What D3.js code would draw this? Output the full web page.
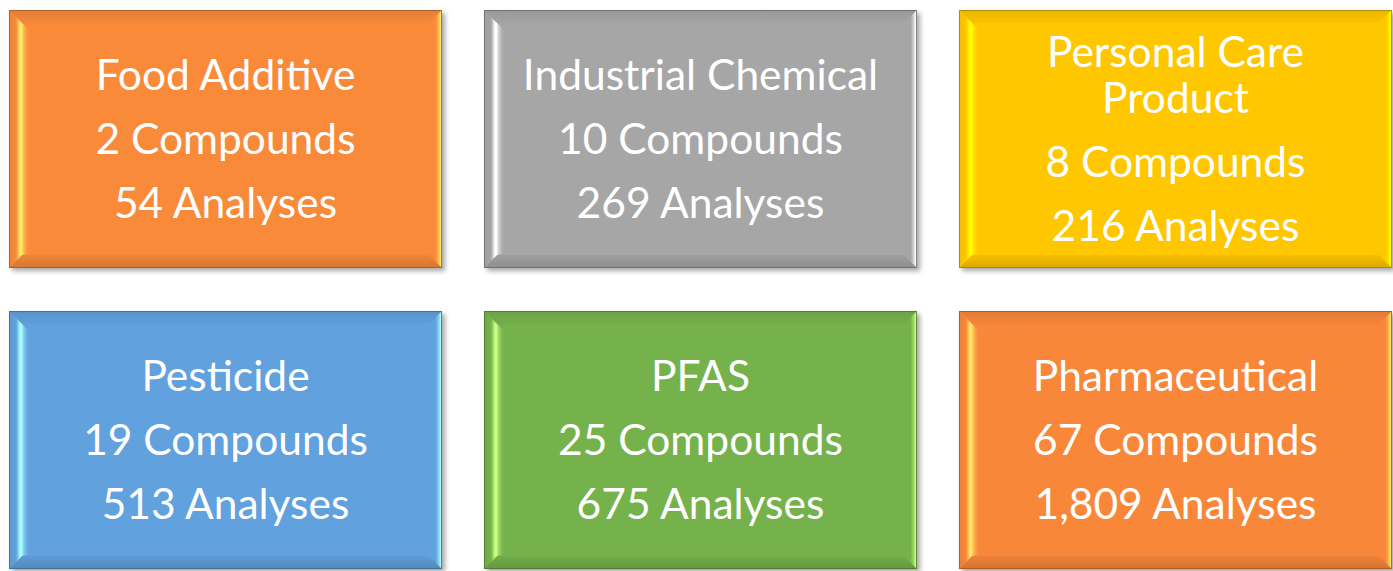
<!DOCTYPE html>
<html>
<head>
<meta charset="utf-8">
<script src="https://cdn.jsdelivr.net/npm/d3@7"></script>
<style>
  body { margin: 0; background: #fff; }
  svg { display: block; }
</style>
</head>
<body>
<script>
(function() {

    const width = 1393;
    const height = 571;

    // tile data
    const categories = ["Food Additive", "Industrial Chemical", "Personal Care\nProduct",
                        "Pesticide", "PFAS", "Pharmaceutical"];
    const compounds = [2, 10, 8, 19, 25, 67];
    const analyses = [54, 269, 216, 513, 675, 1809];

    // tile fill colours, one per category
    const tileColors = ["#f98a3a", "#a6a6a6", "#ffc700", "#61a1dd", "#76b24c", "#f8873a"];

    const color = d3.scaleOrdinal().domain(categories).range(tileColors);
    const fmt = d3.format(",");

    const x = d3.scaleBand().domain([0, 1, 2]).range([9, 1392]).paddingInner(0.0884);
    const y = d3.scaleBand().domain([0, 1]).range([10, 569]).paddingInner(0.143);

    const bevel = 13;

    const svg = d3.select("body").append("svg")
        .attr("width", width)
        .attr("height", height);

    const defs = svg.append("defs");
    defs.append("filter")
        .attr("id", "shadow")
        .attr("x", "-5%").attr("y", "-5%")
        .attr("width", "110%").attr("height", "115%")
        .append("feGaussianBlur")
        .attr("stdDeviation", 2.5);

    function gradient(id, vertical, stops) {
        const g = defs.append("linearGradient")
            .attr("id", id)
            .attr("x1", 0).attr("y1", 0)
            .attr("x2", vertical ? 0 : 1).attr("y2", vertical ? 1 : 0);
        stops.forEach(s => {
            g.append("stop")
                .attr("offset", s[0])
                .attr("stop-color", s[1])
                .attr("stop-opacity", s[2] == null ? 1 : s[2]);
        });
    }

    const tiles = categories.map((c, i) => ({
        name: c,
        lines: c.split("\n"),
        compounds: compounds[i],
        analyses: analyses[i],
        col: i % 3,
        row: Math.floor(i / 3),
        i: i
    }));

    tiles.forEach(d => {
        const base = d3.color(color(d.name));
        const light = base.brighter(1.5).formatHex();
        const mid = d3.interpolateRgb(base, light)(0.5);
        const b = base.formatHex();
        gradient("left" + d.i, false, [[0, base.darker(0.15).formatHex()], [0.55, b], [0.85, light], [1, light]]);
        gradient("glow" + d.i, false, [[0, light, 0.85], [1, b, 0]]);
        gradient("right" + d.i, false, [[0, b], [0.5, b], [0.75, mid], [0.9, light], [1, mid]]);
        gradient("top" + d.i, true, [[0, base.darker(0.25).formatHex()], [1, base.darker(0.05).formatHex()]]);
        gradient("bottom" + d.i, true, [[0, base.darker(0.1).formatHex()], [1, base.darker(0.45).formatHex()]]);
    });

    const g = svg.selectAll("g.tile")
        .data(tiles)
        .enter()
        .append("g")
        .attr("class", "tile")
        .attr("transform", d => "translate(" + x(d.col) + "," + y(d.row) + ")");

    const w = x.bandwidth();
    const h = y.bandwidth();

    // drop shadow
    g.append("rect")
        .attr("x", 3).attr("y", 3)
        .attr("width", w).attr("height", h)
        .attr("fill", "#000")
        .attr("opacity", 0.35)
        .attr("filter", "url(#shadow)");

    // face
    g.append("rect")
        .attr("width", w).attr("height", h)
        .attr("fill", d => color(d.name));

    // bevel edges
    g.append("polygon")
        .attr("points", [[0, 0], [w, 0], [w - bevel, bevel], [bevel, bevel]].join(" "))
        .attr("fill", d => "url(#top" + d.i + ")");
    g.append("polygon")
        .attr("points", [[0, h], [bevel, h - bevel], [w - bevel, h - bevel], [w, h]].join(" "))
        .attr("fill", d => "url(#bottom" + d.i + ")");
    g.append("polygon")
        .attr("points", [[0, 0], [bevel, bevel], [bevel, h - bevel], [0, h]].join(" "))
        .attr("fill", d => "url(#left" + d.i + ")");
    g.append("polygon")
        .attr("points", [[bevel, bevel], [bevel + 8, bevel + 8], [bevel + 8, h - bevel - 2], [bevel, h - bevel]].join(" "))
        .attr("fill", d => "url(#glow" + d.i + ")");
    g.append("polygon")
        .attr("points", [[w, 0], [w, h], [w - bevel, h - bevel], [w - bevel, bevel]].join(" "))
        .attr("fill", d => "url(#right" + d.i + ")");

    // outline
    g.append("rect")
        .attr("x", 0.5).attr("y", 0.5)
        .attr("width", w - 1).attr("height", h - 1)
        .attr("fill", "none")
        .attr("stroke", d => d3.color(color(d.name)).darker(1.2).formatHex())
        .attr("stroke-opacity", 0.8)
        .attr("stroke-width", 1);

    // text block, centred in the tile
    const lineGap = 46;
    const paraGap = 64;
    const capHalf = 15;

    g.each(function(d) {
        const rows = d.lines.slice();
        const offs = [0];
        for (let k = 1; k < rows.length; k++) offs.push(offs[k - 1] + lineGap);
        rows.push(fmt(d.compounds) + " Compounds");
        offs.push(offs[offs.length - 1] + paraGap);
        rows.push(fmt(d.analyses) + " Analyses");
        offs.push(offs[offs.length - 1] + paraGap);
        const total = offs[offs.length - 1];
        const top = h / 2 - total / 2;

        d3.select(this).selectAll("text")
            .data(rows)
            .enter()
            .append("text")
            .attr("x", w / 2)
            .attr("y", (t, k) => top + offs[k] + capHalf)
            .attr("text-anchor", "middle")
            .attr("fill", "#fff")
            .style("font-family", "Lato, 'Open Sans', sans-serif")
            .style("font-size", "42.5px")
            .text(t => t);
    });

})();
</script>
</body>
</html>
